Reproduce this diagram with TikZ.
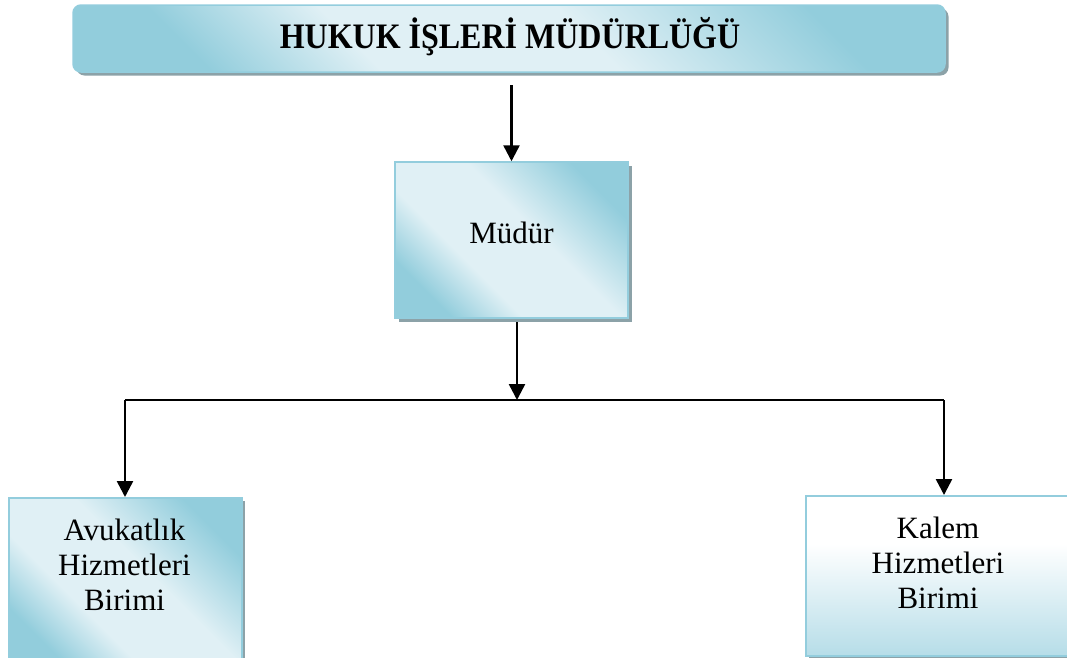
\documentclass[tikz,border=0pt]{standalone}
\usepackage{fontspec}
\setmainfont{Liberation Serif}
\usetikzlibrary{arrows.meta,shadows}
\definecolor{bdark}{HTML}{92CDDC}
\definecolor{blight}{HTML}{E0F0F5}
\definecolor{bmid}{HTML}{B6DDE8}
\definecolor{bedge}{HTML}{93CDDD}
\definecolor{shcol}{RGB}{140,162,168}
\pgfdeclareverticalshading{offdiag}{100bp}{color(0bp)=(bdark); color(25bp)=(bdark); color(38bp)=(blight); color(56bp)=(blight); color(75bp)=(bdark); color(100bp)=(bdark)}
\pgfdeclareverticalshading{offvert}{100bp}{color(0bp)=(bmid); color(25bp)=(bmid); color(60bp)=(white); color(75bp)=(white); color(100bp)=(white)}
\tikzset{
  boxbase/.style={draw=bedge, line width=1.5pt, inner sep=0pt,
    drop shadow={shadow xshift=3.5pt, shadow yshift=-3.5pt, fill=shcol, opacity=1}},
  diagbox/.style={boxbase, shading=offdiag, shading angle=-45},
  vertbox/.style={boxbase, shading=offvert},
  lbl/.style={font=\fontsize{31}{35}\selectfont, align=center, inner sep=0pt},
  arr/.style={line width=2.5pt, -{Triangle[width=16pt,length=16pt]}},
}
\begin{document}
\begin{tikzpicture}[x=1pt,y=-1pt]
\useasboundingbox (0,0) rectangle (1067,657);
% title
\node[diagbox, rounded corners=8pt, minimum width=872pt, minimum height=67pt] (title) at (509,38.5) {};
\node[inner sep=0pt, font=\bfseries\fontsize{32}{38}\selectfont] (titletxt) at (510,36.5) {\scalebox{1}[1.12]{HUKUK İŞLERİ MÜDÜRLÜĞÜ}};
% mudur
\node[diagbox, minimum width=233pt, minimum height=156pt] (mudur) at (511.5,240) {};
\node[lbl] (mudurtxt) at (511.5,233) {Müdür};
% left box
\node[diagbox, minimum width=233pt, minimum height=170pt, anchor=north west] (avuk) at (8,497) {};
\node[lbl] (avuktxt) at (124.5,565) {Avukatlık\\Hizmetleri\\Birimi};
% right box
\node[vertbox, minimum width=266pt, minimum height=160pt, anchor=north west] (kalem) at (805,495) {};
\node[lbl] (kalemtxt) at (938,563) {Kalem\\Hizmetleri\\Birimi};
% connectors
\coordinate (t1) at (511.5,85);
\coordinate (m1) at (517,322);
\coordinate (hmid) at (517,400);
\coordinate (hl) at (125,400);
\coordinate (hr) at (944,400);
\draw[arr] (t1) -- (mudur.north);
\draw[arr] (m1) -- (hmid);
\draw[line width=1.5pt] (hl) -- (hr);
\draw[arr] (hl) -- (hl |- avuk.north);
\draw[arr] (hr) -- (hr |- kalem.north);
\end{tikzpicture}
\end{document}
